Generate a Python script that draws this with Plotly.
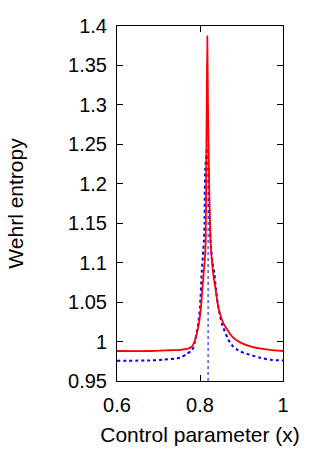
import plotly.graph_objects as go

# Red solid curve
red_x = [0.600, 0.680, 0.728, 0.752, 0.771, 0.781, 0.788, 0.7976, 0.8024, 0.8055, 0.8089,
         0.8120, 0.8137, 0.8150, 0.8162, 0.8176, 0.8192, 0.8215, 0.8250, 0.8282, 0.8320,
         0.8378, 0.8441, 0.8561, 0.8764, 0.8964, 0.9277, 0.9687, 1.000]
red_y = [0.988, 0.988, 0.989, 0.9895, 0.991, 0.994, 1.002, 1.0235, 1.0438, 1.0654, 1.0869,
         1.1072, 1.1287, 1.2175, 1.300, 1.387, 1.300, 1.2175, 1.130, 1.105, 1.085,
         1.0654, 1.0438, 1.0235, 1.007, 0.999, 0.993, 0.9895, 0.988]

# Blue dotted curve
blue_x = [0.600, 0.680, 0.711, 0.752, 0.768, 0.7814, 0.788, 0.7959, 0.800, 0.8041, 0.8072,
          0.8096, 0.8110, 0.8125, 0.8169, 0.8205, 0.8229, 0.8265, 0.8300, 0.8345, 0.8386,
          0.8441, 0.8522, 0.8667, 0.8723, 0.8802, 0.8884, 0.8964, 0.9125, 0.9446, 0.9687, 1.000]
blue_y = [0.9758, 0.976, 0.977, 0.9795, 0.9843, 0.9893, 1.000, 1.0235, 1.0438, 1.0869, 1.110,
          1.1287, 1.150, 1.2175, 1.245, 1.2175, 1.160, 1.120, 1.100, 1.0869, 1.0654,
          1.0438, 1.0235, 1.004, 0.999, 0.9935, 0.990, 0.9875, 0.9845, 0.9795, 0.977, 0.976]

# Vertical dashed marker at the critical point
vline_x = [0.8195, 0.8195]
vline_y = [0.95, 1.30]

x_ticks = [0.6, 0.8, 1.0]
x_tick_text = ["0.6", "0.8", "1"]
y_ticks = [0.95, 1.0, 1.05, 1.1, 1.15, 1.2, 1.25, 1.3, 1.35, 1.4]
y_tick_text = ["0.95", "1", "1.05", "1.1", "1.15", "1.2", "1.25", "1.3", "1.35", "1.4"]

font = "Liberation Sans, Arial, sans-serif"

fig = go.Figure()
fig.add_trace(go.Scatter(x=vline_x, y=vline_y, mode="lines",
                         line=dict(color="#0000ff", width=1, dash="dot"), showlegend=False))
fig.add_trace(go.Scatter(x=blue_x, y=blue_y, mode="lines",
                         line=dict(color="#0000ff", width=2, dash="dot", shape="spline", smoothing=0.6),
                         showlegend=False))
fig.add_trace(go.Scatter(x=red_x, y=red_y, mode="lines",
                         line=dict(color="#ff0000", width=1.8, shape="spline", smoothing=0.6),
                         showlegend=False))

axis_common = dict(showline=True, linecolor="black", linewidth=1, mirror="allticks",
                   ticks="inside", ticklen=6, tickcolor="black", showgrid=False, zeroline=False,
                   automargin=False,
                   tickfont=dict(family=font, size=20, color="black"))

fig.update_layout(
    width=321, height=450,
    margin=dict(l=117, r=38, t=26, b=69),
    paper_bgcolor="white", plot_bgcolor="white",
    hovermode=False,
    xaxis=dict(range=[0.6, 1.0], tickvals=x_ticks, ticktext=x_tick_text,
               title=dict(text="Control parameter (x)", font=dict(family=font, size=21, color="black"), standoff=12),
               ticklabelstandoff=6, **axis_common),
    yaxis=dict(range=[0.95, 1.4], tickvals=y_ticks, ticktext=y_tick_text,
               title=dict(text="Wehrl entropy", font=dict(family=font, size=21, color="black"), standoff=38),
               ticklabelstandoff=5, **axis_common),
)

fig.write_html("out.html", config={"displayModeBar": False},
               post_script="document.body.style.margin='0';document.body.style.overflow='hidden';")
